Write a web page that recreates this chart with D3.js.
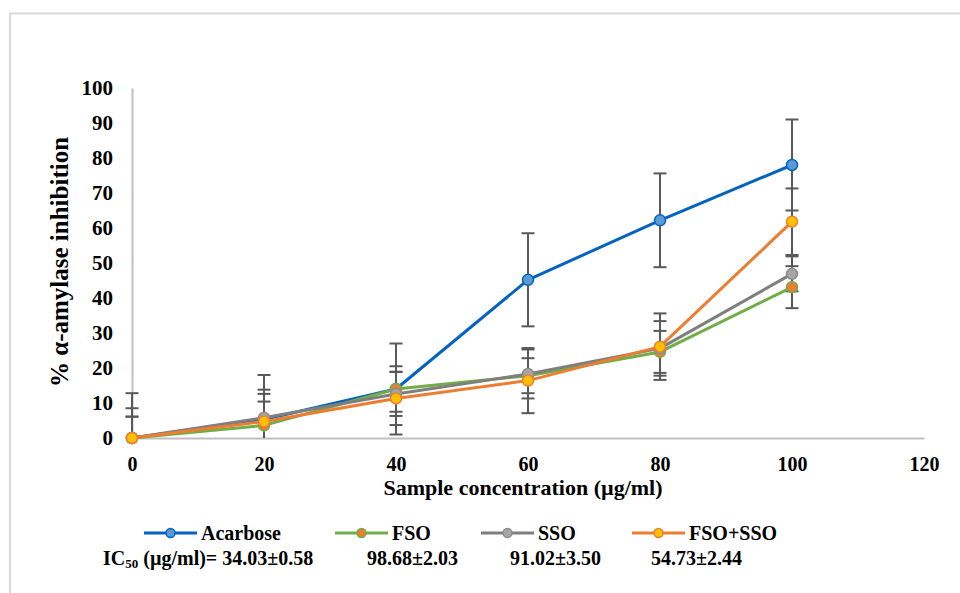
<!DOCTYPE html>
<html>
<head>
<meta charset="utf-8">
<script src="https://cdn.jsdelivr.net/npm/d3@7"></script>
<style>
  body { margin: 0; background: #fff; }
  svg text { font-family: "Liberation Serif", "Times New Roman", serif; font-weight: bold; fill: #000; }
</style>
</head>
<body>
<svg id="chart" width="960" height="593"></svg>
<script>
// data
var concentrations = [0, 20, 40, 60, 80, 100];
var acarbose    = [0, 5.3, 14.0, 45.2, 62.2, 78.0];
var acarboseErr = [12.8, 12.7, 13.0, 13.3, 13.4, 13.0];
var fso         = [0, 3.6, 14.0, 17.8, 24.6, 43.1];
var fsoErr      = [8.5, 9.0, 6.5, 5.0, 6.0, 6.0];
var sso         = [0, 5.8, 12.6, 18.3, 25.6, 46.9];
var ssoErr      = [6.1, 8.0, 6.3, 7.0, 7.8, 5.0];
var fsoSso      = [0, 4.7, 11.3, 16.4, 26.1, 61.8];
var fsoSsoErr   = [6.1, 5.7, 7.6, 9.3, 9.5, 9.5];
var xTicks = [0, 20, 40, 60, 80, 100, 120];
var yTicks = [0, 10, 20, 30, 40, 50, 60, 70, 80, 90, 100];
var ic50Values = ["34.03±0.58", "98.68±2.03", "91.02±3.50", "54.73±2.44"];

var series = [
  { name: "Acarbose", values: acarbose, err: acarboseErr, line: "#0463c1", fill: "#5b9bd5", stroke: "#0463c1" },
  { name: "FSO", values: fso, err: fsoErr, line: "#70ad47", fill: "#ed7d31", stroke: "#70ad47" },
  { name: "SSO", values: sso, err: ssoErr, line: "#7f7f7f", fill: "#a5a5a5", stroke: "#8c8c8c" },
  { name: "FSO+SSO", values: fsoSso, err: fsoSsoErr, line: "#ed7d31", fill: "#ffc000", stroke: "#ed7d31" }
];

var svg = d3.select("#chart");

// outer frame
svg.append("rect")
  .attr("x", 10).attr("y", 13.5)
  .attr("width", 980).attr("height", 620)
  .attr("fill", "none").attr("stroke", "#d9d9d9").attr("stroke-width", 2);

var x = d3.scaleLinear().domain([0, 120]).range([132, 924]);
var y = d3.scaleLinear().domain([0, 100]).range([438, 88]);

// axes
var yAxis = svg.append("g")
  .attr("transform", "translate(" + x(0) + ",0)")
  .call(d3.axisLeft(y).tickValues(yTicks).tickSize(0).tickSizeOuter(0).tickPadding(19));
var xAxis = svg.append("g")
  .attr("transform", "translate(0," + y(0) + ")")
  .call(d3.axisBottom(x).tickValues(xTicks).tickSize(0).tickSizeOuter(0).tickPadding(19));

[yAxis, xAxis].forEach(function (g) {
  g.select(".domain").attr("stroke", "#bfbfbf").attr("stroke-width", 2);
  g.selectAll("text").style("font-size", "21px").style("font-family", '"Liberation Serif", serif').style("font-weight", "bold");
});
xAxis.selectAll("text").style("font-size", "20px");

// axis titles
svg.append("text")
  .attr("x", (x(0) + x(120)) / 2 - 5)
  .attr("y", 495)
  .attr("text-anchor", "middle")
  .style("font-size", "22px")
  .text("Sample concentration (µg/ml)");

svg.append("text")
  .attr("transform", "translate(68,262) rotate(-90)")
  .attr("text-anchor", "middle")
  .style("font-size", "25px")
  .text("% α-amylase inhibition");

// error bars
var cap = 6.5;
series.forEach(function (s) {
  var g = svg.append("g").attr("stroke", "#595959").attr("stroke-width", 2);
  concentrations.forEach(function (c, i) {
    var hi = Math.min(100, s.values[i] + s.err[i]);
    var lo = s.values[i] - s.err[i];
    var loC = Math.max(0, lo);
    g.append("line")
      .attr("x1", x(c)).attr("x2", x(c))
      .attr("y1", y(hi)).attr("y2", y(loC));
    g.append("line")
      .attr("x1", x(c) - cap).attr("x2", x(c) + cap)
      .attr("y1", y(hi)).attr("y2", y(hi));
    if (lo >= 0) {
      g.append("line")
        .attr("x1", x(c) - cap).attr("x2", x(c) + cap)
        .attr("y1", y(lo)).attr("y2", y(lo));
    }
  });
});

// lines and markers
var line = d3.line()
  .x(function (d, i) { return x(concentrations[i]); })
  .y(function (d) { return y(d); });

series.forEach(function (s) {
  svg.append("path")
    .datum(s.values)
    .attr("d", line)
    .attr("fill", "none")
    .attr("stroke", s.line)
    .attr("stroke-width", 3)
    .attr("stroke-linejoin", "round");
  svg.selectAll(null)
    .data(s.values)
    .enter().append("circle")
    .attr("cx", function (d, i) { return x(concentrations[i]); })
    .attr("cy", function (d) { return y(d); })
    .attr("r", 5.5)
    .attr("fill", s.fill)
    .attr("stroke", s.stroke)
    .attr("stroke-width", 1.5);
});

// legend
var legendX = [144, 335, 481, 632];
var legendY = 533;
series.forEach(function (s, i) {
  var lg = svg.append("g").attr("transform", "translate(" + legendX[i] + "," + legendY + ")");
  lg.append("line").attr("x1", 0).attr("x2", 53).attr("y1", 0).attr("y2", 0)
    .attr("stroke", s.line).attr("stroke-width", 3);
  lg.append("circle").attr("cx", 26.5).attr("cy", 0).attr("r", 4.5)
    .attr("fill", s.fill).attr("stroke", s.stroke).attr("stroke-width", 1.5);
  lg.append("text").attr("x", 57).attr("y", 6.5)
    .style("font-size", "20px")
    .text(s.name);
});

// IC50 row
var icX = [103, 367, 510, 651];
var ic = svg.append("text").attr("x", icX[0]).attr("y", 565).style("font-size", "20px");
ic.append("tspan").text("IC");
ic.append("tspan").attr("dy", 3).style("font-size", "13px").text("50");
ic.append("tspan").attr("dy", -3).text(" (µg/ml)= " + ic50Values[0]);
ic50Values.slice(1).forEach(function (v, i) {
  svg.append("text").attr("x", icX[i + 1]).attr("y", 565)
    .style("font-size", "20px")
    .text(v);
});
</script>
</body>
</html>
